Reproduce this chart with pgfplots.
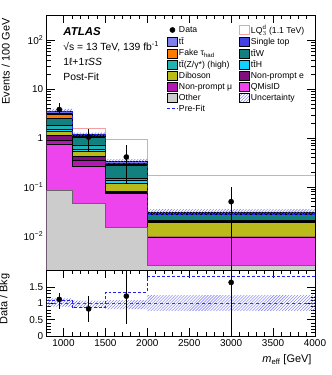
\documentclass[border=0pt]{standalone}
\usepackage{fontspec}
\setmainfont{Liberation Sans}
\usepackage{pgfplots}
\pgfplotsset{compat=1.18}
\usetikzlibrary{patterns}
\usepackage{pgfplotstable}

\definecolor{cTtbar}{HTML}{7F7FEF}
\definecolor{cSingleTop}{HTML}{4141E6}
\definecolor{cFake}{HTML}{FF7B00}
\definecolor{cTtW}{HTML}{138080}
\definecolor{cTtZ}{HTML}{20B2B2}
\definecolor{cTtH}{HTML}{10D0FF}
\definecolor{cDiboson}{HTML}{BABA1A}
\definecolor{cNPe}{HTML}{7F0F7F}
\definecolor{cNPmu}{HTML}{B316B3}
\definecolor{cQMisID}{HTML}{EE44EE}
\definecolor{cOther}{HTML}{CCCCCC}
\definecolor{cLQ}{HTML}{F4A0A0}
\definecolor{cUnc}{HTML}{7070F0}
\definecolor{cPre}{HTML}{2020F0}

\newcommand\ttb{t\={t}}

% cumulative stack tops (events / 100 GeV), bins 800-1100-1500-2000-4000
\pgfplotstableread{
x    other  qmis   npmu   npe    dib    tth    ttz    ttw    fake   st     ttbar
800  0.085  0.76   0.92   1.12   1.38   1.50   1.80   2.55   3.10   3.30   3.60
1100 0.046  0.27   0.35   0.42   0.55   0.60   0.73   1.03   1.08   1.13   1.22
1500 0.015  0.075  0.079  0.082  0.12   0.135  0.15   0.28   0.29   0.31   0.33
2000 0.0025 0.0093 0.0094 0.0096 0.019  0.0195 0.021  0.028  0.0285 0.030  0.031
4000 0.0025 0.0093 0.0094 0.0096 0.019  0.0195 0.021  0.028  0.0285 0.030  0.031
}\stack

\pgfplotstableread{
x    y     ep    em
950  3.85  1.35  0.80
1300 1.05  0.50  0.53
1750 0.41  0.30  0.29
3000 0.05  0.05  0.0499
}\data

\pgfplotstableread{
x    y     ep    em
950  1.12  0.19  0.30
1300 0.83  0.39  0.41
1750 1.22  1.00  0.86
3000 1.64  1.00  1.64
}\ratio

\pgfplotstableread{
x    pre    rpre   lq
800  3.50   1.10   0.60
1100 1.20   0.87   1.60
1500 0.31   1.34   0.95
2000 0.027  1.83   0.17
4000 0.027  1.83   0.17
}\band

\pgfplotsset{
  atlas/.style={
    scale only axis,
    width=268.3bp,
    xmin=800, xmax=4000,
    xtick={1000,1500,2000,2500,3000,3500,4000},
    minor x tick num=4,
    major tick length=8bp,
    minor tick length=4bp,
    tick style={line width=0.5bp, black},
    axis line style={line width=0.7bp},
    tick label style={font=\fontsize{10}{12}\selectfont},
    label style={font=\fontsize{11}{13}\selectfont},
    /pgf/number format/assume math mode=true,
  },
  box/.style={legend image code/.code={
    \draw[##1,line width=0.4bp] (0bp,-4.5bp) rectangle (10bp,4.5bp);}},
  stk/.style={const plot mark left, fill=#1, draw=black, line width=0.4bp, forget plot},
}

\begin{document}
\begin{tikzpicture}
\useasboundingbox (-46.7bp,-39bp) rectangle (285.3bp,336bp);

\begin{axis}[atlas,
  at={(0,66bp)}, height=255bp,
  ymode=log, ymin=0.002, ymax=330,
  ytick={0.01,0.1,1,10,100},
  yticklabels={10\textsuperscript{−2},10\textsuperscript{−1},1,10,10\textsuperscript{2}},
  xticklabels={},
  ylabel={Events / 100 GeV},
  ylabel style={at={(axis description cs:-0.125,1)}, anchor=south east},
  legend columns=2,
  legend cell align=left,
  legend style={draw=none, fill=none, inner sep=0pt,
    at={(0.448,0.965)}, anchor=north west,
    font=\fontsize{8.7}{10}\selectfont,
    nodes={inner xsep=1.2bp, inner ysep=1bp},
    /tikz/every even column/.append style={column sep=6bp},
    row sep=1.1bp},
]
% signal outline (behind stack)
\addplot[const plot mark left, draw=cLQ, line width=0.8bp, forget plot] table[x=x,y=lq] {\band};

\addplot[stk=cTtbar] table[x=x,y=ttbar] {\stack} -- (axis cs:4000,0.001) -- (axis cs:800,0.001) -- cycle;
\addplot[stk=cSingleTop] table[x=x,y=st] {\stack} -- (axis cs:4000,0.001) -- (axis cs:800,0.001) -- cycle;
\addplot[stk=cFake] table[x=x,y=fake] {\stack} -- (axis cs:4000,0.001) -- (axis cs:800,0.001) -- cycle;
\addplot[stk=cTtW] table[x=x,y=ttw] {\stack} -- (axis cs:4000,0.001) -- (axis cs:800,0.001) -- cycle;
\addplot[stk=cTtZ] table[x=x,y=ttz] {\stack} -- (axis cs:4000,0.001) -- (axis cs:800,0.001) -- cycle;
\addplot[stk=cTtH] table[x=x,y=tth] {\stack} -- (axis cs:4000,0.001) -- (axis cs:800,0.001) -- cycle;
\addplot[stk=cDiboson] table[x=x,y=dib] {\stack} -- (axis cs:4000,0.001) -- (axis cs:800,0.001) -- cycle;
\addplot[stk=cNPe] table[x=x,y=npe] {\stack} -- (axis cs:4000,0.001) -- (axis cs:800,0.001) -- cycle;
\addplot[stk=cNPmu] table[x=x,y=npmu] {\stack} -- (axis cs:4000,0.001) -- (axis cs:800,0.001) -- cycle;
\addplot[stk=cQMisID] table[x=x,y=qmis] {\stack} -- (axis cs:4000,0.001) -- (axis cs:800,0.001) -- cycle;
\addplot[stk=cOther, draw=black!60, line width=0.7bp] table[x=x,y=other] {\stack} -- (axis cs:4000,0.001) -- (axis cs:800,0.001) -- cycle;

% uncertainty band on total
\addplot[pattern=north east lines, pattern color=cUnc, draw=none, forget plot] coordinates {
  (800,3.25) (800,3.97) (1100,3.97) (1100,1.30) (1500,1.30) (1500,0.37) (2000,0.37)
  (2000,0.035) (4000,0.035) (4000,0.028) (2000,0.028) (2000,0.30) (1500,0.30)
  (1500,1.10) (1100,1.10) (1100,3.25)} -- cycle;

% pre-fit
\addplot[const plot mark left, draw=cPre, densely dashed, line width=0.7bp, forget plot] table[x=x,y=pre] {\band};

% data
\addplot[only marks, mark=*, mark size=2.6bp, black, forget plot,
  error bars/.cd, y dir=both, y explicit, error mark=none,
  error bar style={line width=0.9bp, black}]
  table[x=x, y=y, y error plus=ep, y error minus=em] {\data};

% legend
\addlegendimage{legend image code/.code={\fill[black] (5bp,0bp) circle (2.6bp);}}
\addlegendentry{Data}
\addlegendimage{box, fill=white, draw=cLQ}
\addlegendentry{LQ$^{\mathrm{d}}_{3}$ (1.1 TeV)}
\addlegendimage{box, fill=cTtbar, draw=black}
\addlegendentry{\ttb}
\addlegendimage{box, fill=cSingleTop, draw=black}
\addlegendentry{Single top}
\addlegendimage{box, fill=cFake, draw=black}
\addlegendentry{Fake τ\textsubscript{had}}
\addlegendimage{box, fill=cTtW, draw=black}
\addlegendentry{\ttb W}
\addlegendimage{box, fill=cTtZ, draw=black}
\addlegendentry{\ttb(Z/γ*) (high)}
\addlegendimage{box, fill=cTtH, draw=black}
\addlegendentry{\ttb H}
\addlegendimage{box, fill=cDiboson, draw=black}
\addlegendentry{Diboson}
\addlegendimage{box, fill=cNPe, draw=black}
\addlegendentry{Non-prompt e}
\addlegendimage{box, fill=cNPmu, draw=black}
\addlegendentry{Non-prompt μ}
\addlegendimage{box, fill=cQMisID, draw=black}
\addlegendentry{QMisID}
\addlegendimage{box, fill=cOther, draw=black}
\addlegendentry{Other}
\addlegendimage{box, draw=none, pattern=north east lines, pattern color=cUnc}
\addlegendentry{Uncertainty}
\addlegendimage{legend image code/.code={\draw[cPre, densely dashed, line width=0.7bp] (0bp,0bp) -- (10bp,0bp);}}
\addlegendentry{Pre-Fit}

\node[anchor=west, font=\fontsize{11.5}{13}\selectfont\bfseries\itshape] at (axis description cs:0.049,0.934) {ATLAS};
\node[anchor=west, font=\fontsize{10.4}{12}\selectfont] at (axis description cs:0.049,0.875) {√s = 13 TeV, 139 fb\textsuperscript{-1}};
\node[anchor=west, font=\fontsize{10.4}{12}\selectfont] at (axis description cs:0.049,0.817) {1ℓ+1\textit{τSS}};
\node[anchor=west, font=\fontsize{10.4}{12}\selectfont] at (axis description cs:0.049,0.757) {Post-Fit};
\end{axis}

\begin{axis}[atlas,
  at={(0,0)}, height=66bp,
  ymin=0, ymax=2.02,
  ytick={0,0.5,1,1.5},
  yticklabels={0,0.5,1,1.5},
  minor y tick num=4,
  xticklabels={1000,1500,2000,2500,3000,3500,4000},
  ylabel={Data / Bkg},
  ylabel style={at={(axis description cs:-0.125,1)}, anchor=south east},
  xlabel={\textit{m}\textsubscript{eff} [GeV]},
  xlabel style={at={(axis description cs:1,0)}, anchor=north east, yshift=-15bp},
]
% relative uncertainty band
\addplot[pattern=north east lines, pattern color=cUnc, draw=none] coordinates {
  (800,0.90) (800,1.15) (1100,1.15) (1100,1.08) (1500,1.08) (1500,1.10) (2000,1.10)
  (2000,1.25) (4000,1.25) (4000,0.77) (2000,0.77) (2000,0.82) (1500,0.82)
  (1500,0.85) (1100,0.85) (1100,0.90)} -- cycle;
\addplot[black!70, dashed, line width=0.6bp] coordinates {(800,1) (4000,1)};
\addplot[const plot mark left, draw=cPre, densely dashed, line width=0.7bp] table[x=x,y=rpre] {\band};
\addplot[only marks, mark=*, mark size=2.6bp, black,
  error bars/.cd, y dir=both, y explicit, error mark=none,
  error bar style={line width=0.9bp, black}]
  table[x=x, y=y, y error plus=ep, y error minus=em] {\ratio};
\end{axis}
\end{tikzpicture}
\end{document}
